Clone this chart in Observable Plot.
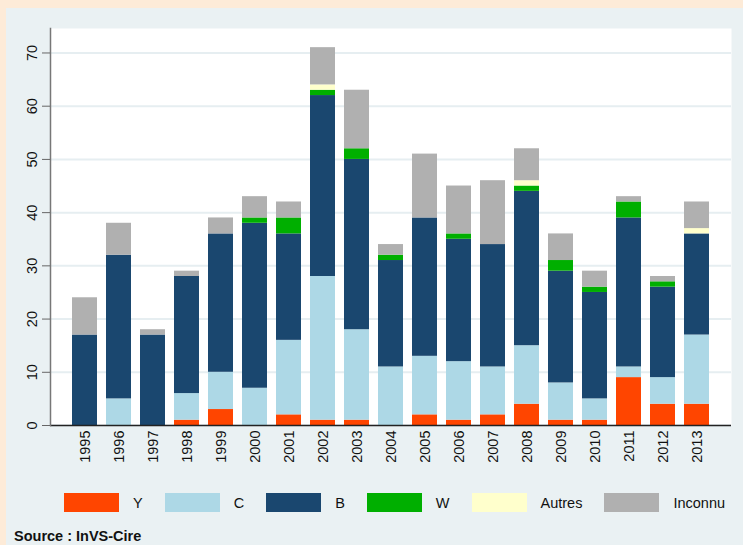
<!DOCTYPE html>
<html><head><meta charset="utf-8">
<script src="https://cdn.jsdelivr.net/npm/d3@7"></script>
<script src="https://cdn.jsdelivr.net/npm/@observablehq/plot@0.6"></script>
<style>
html,body{margin:0;padding:0;background:#FDEBD8;width:743px;height:545px;overflow:hidden;font-family:"Liberation Sans",Arial,sans-serif;}
#panel{position:absolute;left:6px;top:8px;width:737px;height:537px;background:#EAF1F3;}
#chart{position:absolute;left:0;top:0;}
#legend{position:absolute;left:64px;top:493px;height:19px;display:flex;align-items:center;font-size:14.5px;color:#111;}
.sw{width:55px;height:19px;margin-right:14px;}
.lb{margin-right:22px;}
#source{position:absolute;left:14px;top:529px;line-height:1;font-weight:bold;font-size:14.5px;color:#111;}
</style></head>
<body><div id="panel"></div><div id="chart"></div><div id="legend"></div><div id="source">Source : InVS-Cire</div>
<script>
const years = ["1995","1996","1997","1998","1999","2000","2001","2002","2003","2004","2005","2006","2007","2008","2009","2010","2011","2012","2013"];
const seriesNames = ["Y","C","B","W","Autres","Inconnu"];
const colors = ["#FF4500","#ADD8E6","#1A476F","#00AF00","#FFFFCC","#B0B0B0"];
const valY       = [0,0,0,1,3,0,2,1,1,0,2,1,2,4,1,1,9,4,4];
const valC       = [0,5,0,5,7,7,14,27,17,11,11,11,9,11,7,4,2,5,13];
const valB       = [17,27,17,22,26,31,20,34,32,20,26,23,23,29,21,20,28,17,19];
const valW       = [0,0,0,0,0,1,3,1,2,1,0,1,0,1,2,1,3,1,0];
const valAutres  = [0,0,0,0,0,0,0,1,0,0,0,0,0,1,0,0,0,0,1];
const valInconnu = [7,6,1,1,3,4,3,7,11,2,12,9,12,6,5,3,1,1,5];
const yTicks = [0,10,20,30,40,50,60,70];

const seriesValues = [valY,valC,valB,valW,valAutres,valInconnu];
const data = years.flatMap((yr,i)=>seriesNames.map((s,j)=>({year:yr, series:s, value:seriesValues[j][i]})));

const chart = Plot.plot({
  width:743, height:480, marginLeft:50, marginRight:12, marginTop:28, marginBottom:55,
  style:{background:"transparent", fontFamily:"Liberation Sans, Arial, sans-serif", fontSize:"14.5px", color:"#111", overflow:"visible"},
  x:{domain:years, paddingInner:0.27, paddingOuter:0.52, label:null},
  y:{domain:[0,74.6], label:null},
  color:{domain:seriesNames, range:colors},
  marks:[
    Plot.frame({fill:"white", stroke:null}),
    Plot.gridY(yTicks,{stroke:"#E6EEF1", strokeOpacity:1, strokeWidth:2}),
    Plot.barY(data,{x:"year", y:"value", fill:"series"}),
    Plot.ruleY([0],{stroke:"#222", strokeWidth:1.5}),
    Plot.frame({anchor:"left", stroke:"#777", strokeWidth:1.5}),
    Plot.axisY(yTicks,{tickSize:8, tickRotate:-90, textAnchor:"middle", lineAnchor:"bottom", tickPadding:6, stroke:"#666", fontSize:14.5, label:null}),
    Plot.axisX({tickSize:0, tickRotate:-90, textAnchor:"end", lineAnchor:"middle", tickPadding:5, fontSize:14.5, label:null})
  ]
});
document.getElementById("chart").appendChild(chart);

const legend = document.getElementById("legend");
seriesNames.forEach((s,j)=>{
  const sw = document.createElement("div"); sw.className="sw"; sw.style.background=colors[j];
  const lb = document.createElement("div"); lb.className="lb"; lb.textContent=s;
  legend.appendChild(sw); legend.appendChild(lb);
});
</script>
</body></html>
